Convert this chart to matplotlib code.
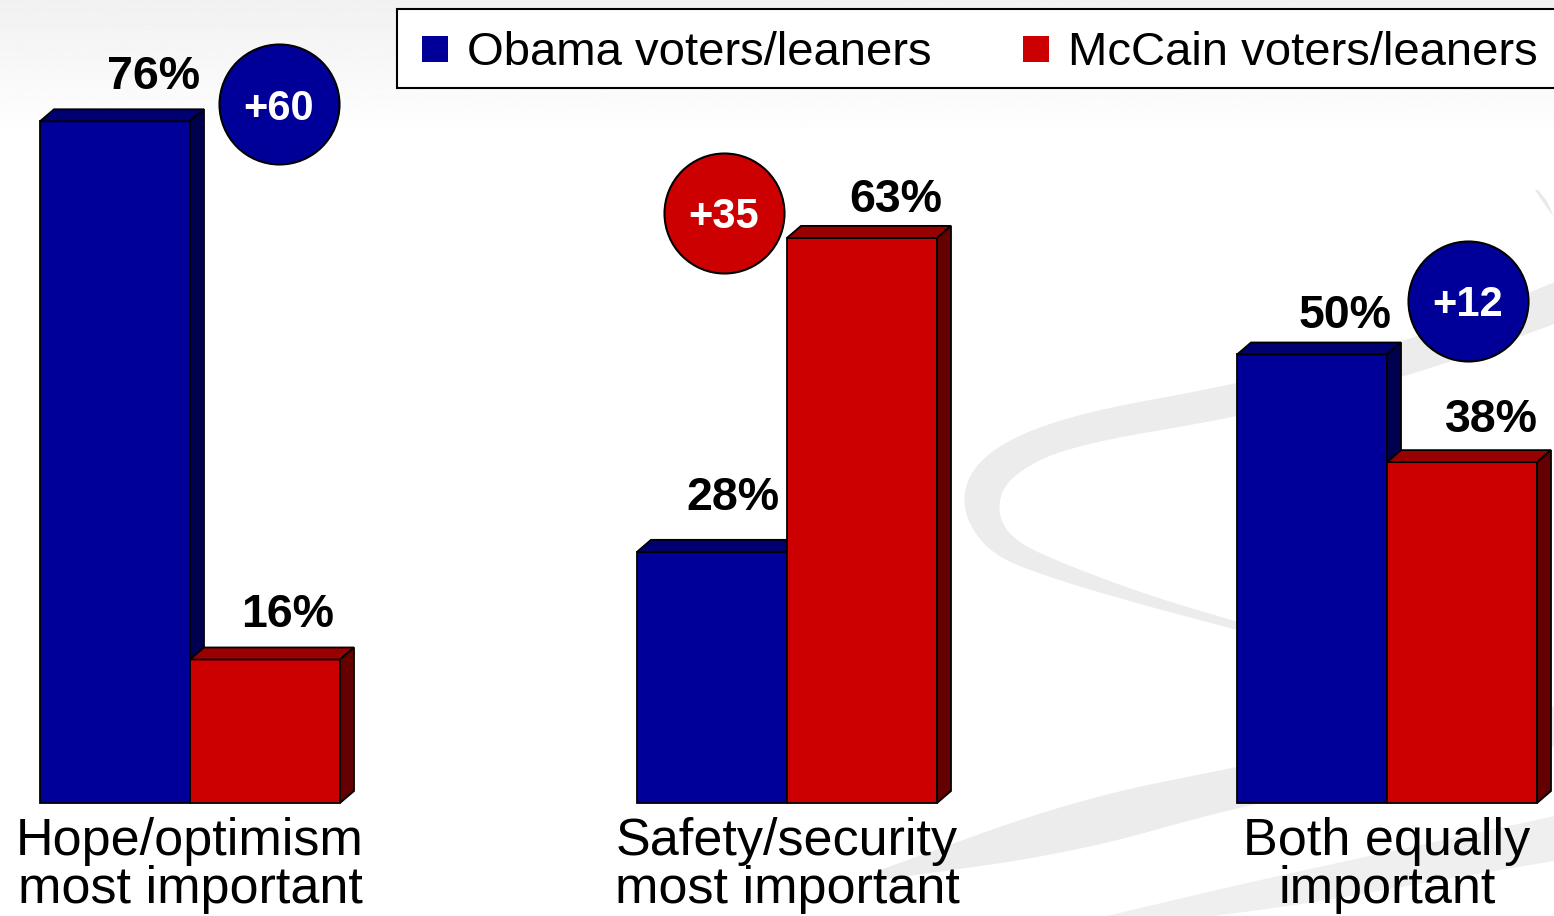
import numpy as np
import matplotlib
matplotlib.use("Agg")
import matplotlib.pyplot as plt
from matplotlib.patches import Polygon, Rectangle

plt.rcParams["font.family"] = ["Liberation Sans", "DejaVu Sans"]

# data
CATEGORIES = ["Hope/optimism\nmost important", "Safety/security\nmost important", "Both equally\nimportant"]
SERIES = ["Obama voters/leaners", "McCain voters/leaners"]
OBAMA = [76, 28, 50]
MCCAIN = [16, 63, 38]

# colours: front, top, side
BLUE = ("#000099", "#000070", "#000050")
RED = ("#cc0000", "#990000", "#640000")

# layout (pixel units on x, baseline at pixel 803, 1% = 8.97 px)
W, H = 1554, 916
BASE_PX = 803
PX_PER_PCT = 8.97
GROUP_LEFT = [40, 637, 1237]
BAR_W = 150
DX = 14
DY = 12 / PX_PER_PCT
CIRCLE_DX = [239, 87, 231]      # circle centre offset from group left
CIRCLE_DY = [1.9, 2.8, 6.0]     # circle centre above the larger bar
LABEL_DX = [[39, 23], [21, 34], [33, 29]]   # value label shift from bar centre, px
LABEL_GAP = [[32, 32], [42, 26], [26, 30]]  # gap between label baseline and bar top, px


def to_data_y(px):
    return (BASE_PX - px) / PX_PER_PCT


def smooth(points, n=3):
    pts = np.asarray(points, dtype=float)
    for _ in range(n):
        q = 0.75 * pts[:-1] + 0.25 * pts[1:]
        r = 0.25 * pts[:-1] + 0.75 * pts[1:]
        mid = np.empty((len(q) * 2, 2))
        mid[0::2] = q
        mid[1::2] = r
        pts = np.vstack([pts[:1], mid, pts[-1:]])
    return pts


def band(ax, edge_a, edge_b, color):
    a = smooth(edge_a)
    b = smooth(edge_b)[::-1]
    ax.add_patch(Polygon(np.vstack([a, b]), closed=True, facecolor=color, edgecolor="none"))


def draw_bar(ax, x, value, colors, z):
    front, top, side = colors
    ax.bar(x, value, width=BAR_W, align="edge", color=front, edgecolor="black", linewidth=1.3, zorder=z)
    ax.add_patch(Polygon([(x, value), (x + DX, value + DY), (x + BAR_W + DX, value + DY), (x + BAR_W, value)],
                         closed=True, facecolor=top, edgecolor="black", linewidth=1.3, zorder=z))
    ax.add_patch(Polygon([(x + BAR_W, 0), (x + BAR_W, value), (x + BAR_W + DX, value + DY), (x + BAR_W + DX, DY)],
                         closed=True, facecolor=side, edgecolor="black", linewidth=1.3, zorder=z))


fig = plt.figure(figsize=(W / 100, H / 100), dpi=100)
fig.patch.set_facecolor("white")

# background layer in pixel coordinates
bg = fig.add_axes([0, 0, 1, 1], zorder=0)
bg.set_xlim(0, W)
bg.set_ylim(H, 0)
bg.axis("off")
grad = np.linspace(0.945, 1.0, 100).reshape(-1, 1)
bg.imshow(grad, cmap="gray", vmin=0, vmax=1, extent=[0, W, 140, 0], aspect="auto", zorder=0)

band(bg,
     [(1560, 280), (1400, 345), (1233, 385), (1067, 415), (983, 452), (958, 500), (985, 552), (1050, 578), (1150, 607), (1245, 632)],
     [(1560, 322), (1400, 380), (1233, 418), (1067, 446), (1008, 477), (996, 510), (1012, 540), (1064, 564), (1150, 596), (1245, 624)],
     "#ececec")
band(bg,
     [(880, 870), (1074, 800), (1236, 767), (1400, 735), (1560, 705)],
     [(880, 880), (1074, 853), (1236, 807), (1400, 775), (1560, 745)],
     "#ececec")
band(bg,
     [(1090, 920), (1250, 882), (1420, 845), (1560, 815)],
     [(1180, 920), (1300, 905), (1440, 880), (1560, 860)],
     "#efefef")
band(bg,
     [(1535, 190), (1545, 205), (1560, 225)],
     [(1538, 190), (1550, 205), (1560, 238)],
     "#e8e8e8")

# main chart layer
ax = fig.add_axes([0, 0, 1, 1], zorder=1)
ax.patch.set_alpha(0)
ax.set_xlim(0, W)
ax.set_ylim(to_data_y(H), to_data_y(0))
ax.axis("off")

for i, cat in enumerate(CATEGORIES):
    left = GROUP_LEFT[i]
    xs = [left, left + BAR_W]
    vals = [OBAMA[i], MCCAIN[i]]
    for j, (x, v, cols) in enumerate(zip(xs, vals, [BLUE, RED])):
        draw_bar(ax, x, v, cols, 2 + j)
        ax.text(x + BAR_W / 2 + LABEL_DX[i][j], v + LABEL_GAP[i][j] / PX_PER_PCT, f"{v}%",
                ha="center", va="baseline", fontsize=33.5, fontweight="bold", color="black", zorder=6)

    lead = 0 if OBAMA[i] > MCCAIN[i] else 1
    cx = left + CIRCLE_DX[i]
    cy = max(vals) + CIRCLE_DY[i]
    ax.scatter([cx], [cy], s=86.4 ** 2, color=[BLUE, RED][lead][0], edgecolors="black",
               linewidths=1.5, zorder=7)
    ax.text(cx, cy, f"+{abs(OBAMA[i] - MCCAIN[i])}", ha="center", va="center_baseline",
            fontsize=30, fontweight="bold", color="white", zorder=8)

    for k, line in enumerate(cat.split("\n")):
        ax.text(left + BAR_W, to_data_y(855 + 48 * k), line, ha="center", va="baseline",
                fontsize=37.5, color="black", zorder=6)

# legend layer
fg = fig.add_axes([0, 0, 1, 1], zorder=2)
fg.patch.set_alpha(0)
fg.set_xlim(0, W)
fg.set_ylim(H, 0)
fg.axis("off")
fg.add_patch(Rectangle((397, 9), 1200, 79, facecolor="white", edgecolor="black", linewidth=1.5))
for name, cols, sx in zip(SERIES, [BLUE, RED], [422, 1023]):
    fg.add_patch(Rectangle((sx, 36), 26, 26, facecolor=cols[0], edgecolor="none"))
    fg.text(sx + 45, 53, name, ha="left", va="center", fontsize=34, color="black")

fig.savefig("out.png", dpi=100, facecolor="white")
